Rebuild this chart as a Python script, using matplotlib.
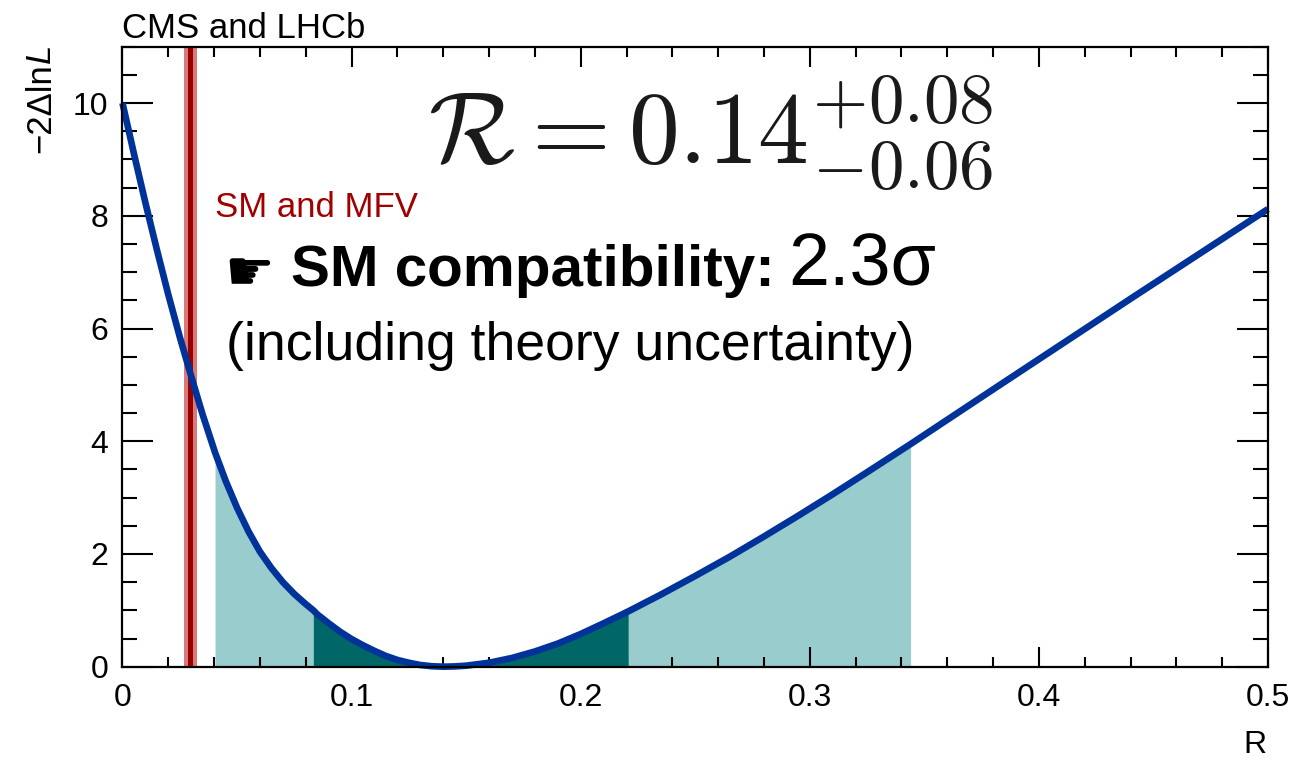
import matplotlib
matplotlib.use("Agg")
import matplotlib.pyplot as plt
import numpy as np
from matplotlib.ticker import FixedLocator, MultipleLocator

# ---------------- data ----------------
R_values = np.array([
    0.000, 0.005, 0.010, 0.015, 0.020, 0.025, 0.030, 0.035, 0.040, 0.0404,
    0.045, 0.050, 0.055, 0.060, 0.065, 0.070, 0.075, 0.080, 0.0833, 0.085,
    0.090, 0.095, 0.100, 0.105, 0.110, 0.115, 0.120, 0.125, 0.130, 0.135,
    0.140, 0.145, 0.150, 0.160, 0.170, 0.180, 0.190, 0.200, 0.210, 0.2207,
    0.235, 0.250, 0.265, 0.280, 0.295, 0.310, 0.325, 0.344, 0.383, 0.4412,
    0.500])
dnll_values = np.array([
    10.00, 9.10, 8.23, 7.40, 6.60, 5.85, 5.15, 4.47, 3.85, 3.80,
    3.30, 2.82, 2.40, 2.04, 1.75, 1.50, 1.29, 1.11, 1.00, 0.93,
    0.77, 0.62, 0.49, 0.38, 0.28, 0.19, 0.12, 0.07, 0.03, 0.008,
    0.00, 0.005, 0.018, 0.07, 0.155, 0.27, 0.41, 0.58, 0.77, 0.98,
    1.28, 1.61, 1.95, 2.31, 2.68, 3.06, 3.45, 3.95, 5.00, 6.56,
    8.12])
sm_value = 0.0296
sm_core_halfwidth = 0.0012
sm_theory_halfwidth = 0.0029
band_2sigma = (0.0404, 0.3440)
band_1sigma = (0.0833, 0.2207)

x_ticks = [0.0, 0.1, 0.2, 0.3, 0.4, 0.5]
x_tick_labels = ["0", "0.1", "0.2", "0.3", "0.4", "0.5"]
y_ticks = [0, 2, 4, 6, 8, 10]
y_tick_labels = ["0", "2", "4", "6", "8", "10"]

# ---------------- style ----------------
plt.rcParams['font.family'] = ['Liberation Sans', 'DejaVu Sans']
plt.rcParams['mathtext.fontset'] = 'cm'

W, H = 1299, 758
fig = plt.figure(figsize=(W / 100, H / 100), dpi=100)
x0, x1, ytop, ybot = 122.5, 1268.0, 46.7, 666.7
ax = fig.add_axes([x0 / W, 1 - ybot / H, (x1 - x0) / W, (ybot - ytop) / H])
ax.set_xlim(0, 0.5)
ax.set_ylim(0, 11)

lt = '#99cccc'
dk = '#006666'
m2 = (R_values >= band_2sigma[0]) & (R_values <= band_2sigma[1])
m1 = (R_values >= band_1sigma[0]) & (R_values <= band_1sigma[1])
ax.fill_between(R_values, 0, dnll_values, where=m2, color=lt, lw=0, zorder=1)
ax.fill_between(R_values, 0, dnll_values, where=m1, color=dk, lw=0, zorder=2)
ax.axvspan(sm_value - sm_theory_halfwidth, sm_value + sm_theory_halfwidth,
           color='#d97a7a', lw=0, zorder=3)
ax.axvspan(sm_value - sm_core_halfwidth, sm_value + sm_core_halfwidth,
           color='#990000', lw=0, zorder=4)
ax.plot(R_values, dnll_values, color='#003399', lw=4.8, zorder=5,
        clip_on=False, solid_joinstyle='round', solid_capstyle='butt')

ax.xaxis.set_major_locator(FixedLocator(x_ticks))
ax.set_xticklabels(x_tick_labels)
ax.xaxis.set_minor_locator(MultipleLocator(0.02))
ax.yaxis.set_major_locator(FixedLocator(y_ticks))
ax.set_yticklabels(y_tick_labels)
ax.yaxis.set_minor_locator(MultipleLocator(0.5))
ax.tick_params(which='both', direction='in', top=True, right=True,
               width=1.5, color='black')
ax.tick_params(axis='x', which='major', length=14.5, pad=11.5, labelsize=23)
ax.tick_params(axis='x', which='minor', length=7)
ax.tick_params(axis='y', which='major', length=22, pad=10, labelsize=23)
ax.tick_params(axis='y', which='minor', length=11)
for s in ax.spines.values():
    s.set_linewidth(1.6)
    s.set_zorder(6)


def fp(x, y):
    return x / W, 1 - y / H


# texts
fig.text(*fp(122, 37.7), "CMS and LHCb", fontsize=25, ha='left', va='baseline')
fig.text(*fp(215, 217), "SM and MFV", fontsize=25, color='#a00000',
         ha='left', va='baseline')
fig.text(*fp(711, 133), r'$\mathcal{R} = 0.14^{+0.08}_{-0.06}$',
         fontsize=73, ha='center', va='center', color='#1a1a1a')
fig.text(*fp(224, 290), '\u261b', family=['DejaVu Sans'], fontsize=40,
         ha='left', va='baseline')
fig.text(*fp(291, 286), 'SM compatibility:', fontsize=42, weight='bold',
         ha='left', va='baseline')
fig.text(*fp(788, 286), '2.3\u03c3', fontsize=53, ha='left', va='baseline')
fig.text(*fp(226, 360), '(including theory uncertainty)', fontsize=38.5,
         ha='left', va='baseline')
fig.text(*fp(1267, 753), 'R', fontsize=23, ha='right', va='baseline')

# y label: "−2Δln" + italic "L"
t1 = fig.text(*fp(50, 153), '\u22122\u0394ln', fontsize=25, rotation=90,
              rotation_mode='anchor', ha='left', va='baseline')
fig.canvas.draw()
rend = fig.canvas.get_renderer()
bb = t1.get_window_extent(rend)
fig.text(50 / W, bb.y1 / H, 'L', fontsize=25, style='italic', rotation=90,
         rotation_mode='anchor', ha='left', va='baseline')

fig.savefig('out.png', dpi=100)
